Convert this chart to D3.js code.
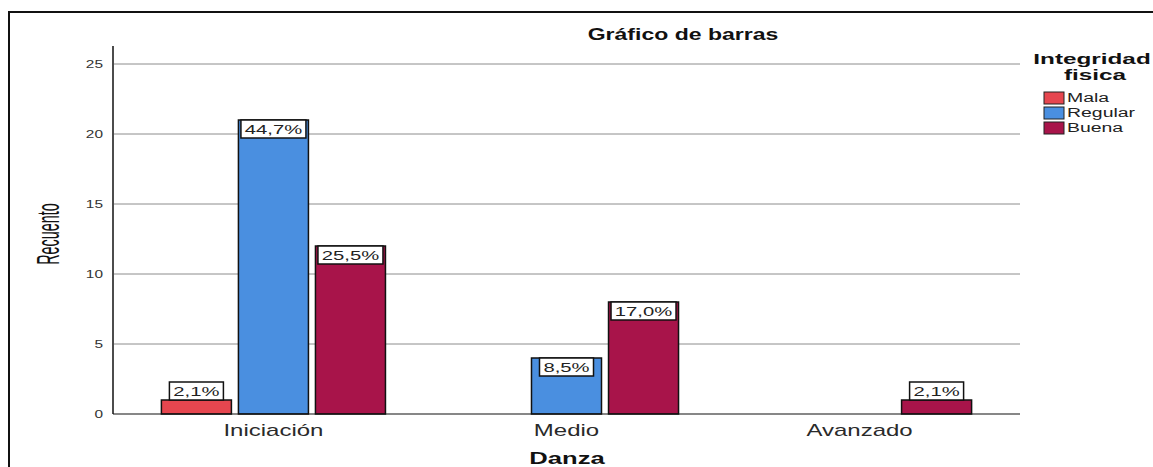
<!DOCTYPE html>
<html>
<head>
<meta charset="utf-8">
<script src="https://cdn.jsdelivr.net/npm/d3@7"></script>
<style>
  html, body { margin: 0; padding: 0; background: #fff; }
  svg { display: block; font-family: Arial, "Liberation Sans", sans-serif; }
</style>
</head>
<body>
<div id="chart"></div>
<script>
// ===== 数据 =====
const categories = ["Iniciación", "Medio", "Avanzado"];
const series = ["Mala", "Regular", "Buena"];
const mala = [1, 0, 0];
const regular = [21, 4, 0];
const buena = [12, 8, 1];
const total = 47;
const yTicks = [0, 5, 10, 15, 20, 25];
const colors = ["#e6464f", "#4a8fe0", "#a8144a"];

const W = 1153, H = 467;
const plot = { left: 114, right: 1019, top: 46, bottom: 414 };

const svg = d3.select("#chart").append("svg")
  .attr("width", W).attr("height", H);

// 图里的文字都被横向拉宽了，用 scale 模拟
function label(g, x, y, str, o = {}) {
  const sx = o.sx || 1.5, sy = o.sy || 1;
  const rot = o.rotate ? ` rotate(${o.rotate})` : "";
  return g.append("text")
    .attr("transform", `translate(${x},${y}) scale(${sx},${sy})${rot}`)
    .attr("text-anchor", o.anchor || "middle")
    .attr("font-size", o.size || 12)
    .attr("font-weight", o.bold ? "bold" : "normal")
    .attr("fill", o.fill || "#222")
    .text(str);
}

// 外框（只露出上边和左边）
svg.append("path")
  .attr("d", `M9,${H} V12 H${W}`)
  .attr("fill", "none").attr("stroke", "#111").attr("stroke-width", 2);

// ===== 比例尺 =====
const x0 = d3.scaleBand().domain(categories)
  .range([plot.left, plot.right]).paddingInner(0).paddingOuter(0.044);
const x1 = d3.scaleBand().domain(series)
  .range([0, x0.bandwidth()]).paddingInner(0.091).paddingOuter(0.448);
const y = d3.scaleLinear().domain([0, 25]).range([plot.bottom, 64]);

// 网格线
svg.append("g").selectAll("line")
  .data(yTicks.filter(d => d > 0))
  .join("line")
  .attr("x1", plot.left).attr("x2", plot.right + 1)
  .attr("y1", d => y(d)).attr("y2", d => y(d))
  .attr("stroke", "#8c8c8c").attr("stroke-width", 1);

// 坐标轴刻度文字
const gy = svg.append("g");
yTicks.forEach(t => label(gy, 103, y(t) + 4, t, { anchor: "end", size: 11, sx: 1.4, fill: "#333" }));

// 轴线
svg.append("line")
  .attr("x1", plot.left - 1).attr("x2", plot.left - 1)
  .attr("y1", plot.top).attr("y2", plot.bottom)
  .attr("stroke", "#111").attr("stroke-width", 1.5);

// ===== 柱子 =====
const rows = [];
categories.forEach((c, i) => {
  [mala, regular, buena].forEach((arr, j) => {
    if (arr[i] > 0) rows.push({ cat: c, ser: series[j], v: arr[i], color: colors[j] });
  });
});

const gb = svg.append("g");
gb.selectAll("rect")
  .data(rows)
  .join("rect")
  .attr("x", d => x0(d.cat) + x1(d.ser))
  .attr("y", d => y(d.v))
  .attr("width", x1.bandwidth())
  .attr("height", d => y(0) - y(d.v))
  .attr("fill", d => d.color)
  .attr("stroke", "#111").attr("stroke-width", 1.5);

svg.append("line")
  .attr("x1", plot.left - 1).attr("x2", plot.right + 1)
  .attr("y1", plot.bottom).attr("y2", plot.bottom)
  .attr("stroke", "#111").attr("stroke-width", 1.2);

// 百分比标签
const pct = v => (v / total * 100).toFixed(1).replace(".", ",") + "%";
const gl = svg.append("g");
rows.forEach(d => {
  const cx = x0(d.cat) + x1(d.ser) + x1.bandwidth() / 2;
  const txt = pct(d.v);
  const bw = Math.min(x1.bandwidth(), txt.length * 11 + 10);
  const bh = 18;
  const barH = y(0) - y(d.v);
  const top = barH > bh + 4 ? y(d.v) : y(d.v) - bh;
  gl.append("rect")
    .attr("x", cx - bw / 2).attr("y", top)
    .attr("width", bw).attr("height", bh)
    .attr("fill", "#fff").attr("stroke", "#111").attr("stroke-width", 1.5);
  label(gl, cx, top + 14, txt, { size: 13.5, sx: 1.5, fill: "#222" });
});

// ===== 文字 =====
const gt = svg.append("g");
label(gt, 683, 40, "Gráfico de barras", { size: 16, bold: true, sx: 1.44, fill: "#111" });
categories.forEach(c => label(gt, x0(c) + x0.bandwidth() / 2, 436, c, { size: 16, sx: 1.5, fill: "#2a2a2a" }));
label(gt, 567, 464, "Danza", { size: 16, bold: true, sx: 1.6, fill: "#111" });
label(gt, 59, 234, "Recuento", { size: 20, sx: 1.6, sy: 0.72, rotate: -90, fill: "#111" });

// ===== 图例 =====
const lg = svg.append("g");
label(lg, 1092, 64, "Integridad", { size: 15, bold: true, sx: 1.62, fill: "#111" });
label(lg, 1095, 80, "fisica", { size: 15, bold: true, sx: 1.62, fill: "#111" });
series.forEach((s, i) => {
  const cy = 98 + i * 15;
  lg.append("rect")
    .attr("x", 1044).attr("y", cy - 6)
    .attr("width", 20).attr("height", 12)
    .attr("fill", colors[i]).attr("stroke", "#222").attr("stroke-width", 1);
  label(lg, 1067, cy + 4, s, { size: 12, sx: 1.62, anchor: "start", fill: "#222" });
});
</script>
</body>
</html>
